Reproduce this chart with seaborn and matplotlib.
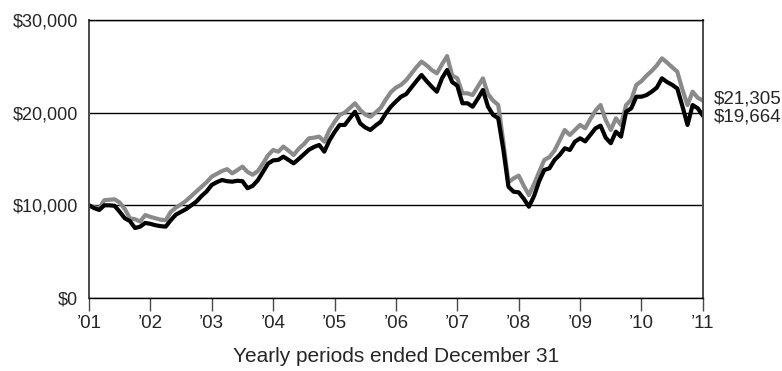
import matplotlib
matplotlib.use("Agg")
import matplotlib.pyplot as plt
import numpy as np
import pandas as pd
import seaborn as sns

# Month-end values of a hypothetical $10,000 investment, Jan 2001 .. Dec 2010 (121 points)
fund_values = [
    10000, 9700, 9500, 10000, 10000, 9950, 9300, 8600, 8300, 7550,
    7700, 8100, 8000, 7850, 7750, 7700, 8400, 9000, 9300, 9600,
    10000, 10400, 11000, 11500, 12200, 12500, 12730, 12600, 12550, 12650,
    12600, 11840, 12100, 12700, 13600, 14500, 14850, 14900, 15250, 14900,
    14530, 15000, 15500, 16000, 16300, 16510, 15790, 17000, 17900, 18670,
    18670, 19400, 20100, 18850, 18400, 18130, 18600, 19000, 19900, 20640,
    21200, 21720, 22000, 22700, 23400, 24060, 23400, 22800, 22260, 23700,
    24600, 23300, 22900, 21010, 21010, 20640, 21500, 22440, 20640, 19750,
    19390, 16000, 12000, 11470, 11400, 10700, 9850, 11000, 12600, 13810,
    13990, 14890, 15430, 16150, 15970, 16870, 17230, 16900, 17600, 18300,
    18600, 17300, 16700, 17950, 17410, 20100, 20470, 21720, 21720, 21900,
    22260, 22700, 23700, 23300, 23000, 22600, 20700, 18670, 20820, 20470,
    19664,
]
benchmark_values = [
    10000, 9800, 9700, 10550, 10600, 10650, 10300, 9600, 8600, 8500,
    8250, 8950, 8750, 8600, 8450, 8400, 9300, 9750, 10100, 10500,
    11000, 11500, 12000, 12500, 13100, 13400, 13700, 13900, 13450, 13800,
    14170, 13600, 13300, 13700, 14500, 15400, 15970, 15790, 16330, 15900,
    15430, 16100, 16600, 17230, 17300, 17410, 16870, 18130, 19000, 19750,
    20000, 20500, 21010, 20300, 19800, 19560, 20000, 20500, 21400, 22200,
    22700, 23000, 23500, 24200, 24900, 25500, 25100, 24600, 24240, 25200,
    26100, 24000, 23700, 22100, 22080, 21900, 22800, 23700, 22000, 21300,
    20820, 16800, 12500, 12900, 13200, 12100, 11110, 12300, 13600, 14890,
    15200, 15900, 17000, 18130, 17590, 18130, 18670, 18310, 19300, 20200,
    20820, 19200, 18130, 19390, 18670, 20820, 21400, 23000, 23400, 24000,
    24500, 25100, 25860, 25400, 24900, 24420, 22500, 20820, 22260, 21600,
    21305,
]

year_ticks = [2001, 2002, 2003, 2004, 2005, 2006, 2007, 2008, 2009, 2010, 2011]
year_labels = ["’01", "’02", "’03", "’04", "’05", "’06", "’07", "’08", "’09", "’10", "’11"]
value_ticks = [0, 10000, 20000, 30000]
value_labels = ["$0", "$10,000", "$20,000", "$30,000"]
x_title = "Yearly periods ended December 31"

n = len(fund_values)
months = np.arange(n)
df = pd.concat([
    pd.DataFrame({"year": 2001 + months / 12, "value": benchmark_values, "series": "Benchmark"}),
    pd.DataFrame({"year": 2001 + months / 12, "value": fund_values, "series": "Fund"}),
], ignore_index=True)

sns.set_theme(style="white")
plt.rcParams["font.family"] = ["Liberation Sans", "DejaVu Sans"]
text_color = "#262626"

fig = plt.figure(figsize=(7.82, 3.71), dpi=100)
ax = fig.add_axes([0.1138, 0.1968, 0.785, 0.7494])

sns.lineplot(
    data=df, x="year", y="value", hue="series",
    hue_order=["Benchmark", "Fund"],
    palette={"Benchmark": "#8a8a8a", "Fund": "#000000"},
    linewidth=3.0, legend=False, ax=ax,
)

ax.set_xlim(2001, 2011)
ax.set_ylim(0, 30000)
ax.set_xticks(year_ticks)
ax.set_xticklabels(year_labels)
ax.set_yticks(value_ticks)
ax.set_yticklabels(value_labels)

ax.yaxis.grid(True, color="black", linewidth=1.0)
ax.xaxis.grid(False)
ax.set_axisbelow(True)

for side in ["top", "bottom"]:
    ax.spines[side].set_color("black")
    ax.spines[side].set_linewidth(1.0)
for side in ["left", "right"]:
    ax.spines[side].set_color("#4a4a4a")
    ax.spines[side].set_linewidth(1.4)

ax.tick_params(axis="x", direction="out", length=9, width=1.0, color="#4a4a4a",
               pad=3, labelsize=13.5, labelcolor=text_color, bottom=True)
ax.tick_params(axis="y", length=0, pad=8, labelsize=13, labelcolor=text_color)

ax.set_xlabel(x_title, fontsize=15, color=text_color, labelpad=11)
ax.set_ylabel("")

# Ending values printed beside the right edge
ax.annotate(f"${benchmark_values[-1]:,}", xy=(2011, benchmark_values[-1]),
            xytext=(11, 2), textcoords="offset pixels", va="center", ha="left",
            fontsize=13.5, color=text_color, annotation_clip=False)
ax.annotate(f"${fund_values[-1]:,}", xy=(2011, fund_values[-1]),
            xytext=(11, -1), textcoords="offset pixels", va="center", ha="left",
            fontsize=13.5, color=text_color, annotation_clip=False)

fig.savefig("out.png", dpi=100)
